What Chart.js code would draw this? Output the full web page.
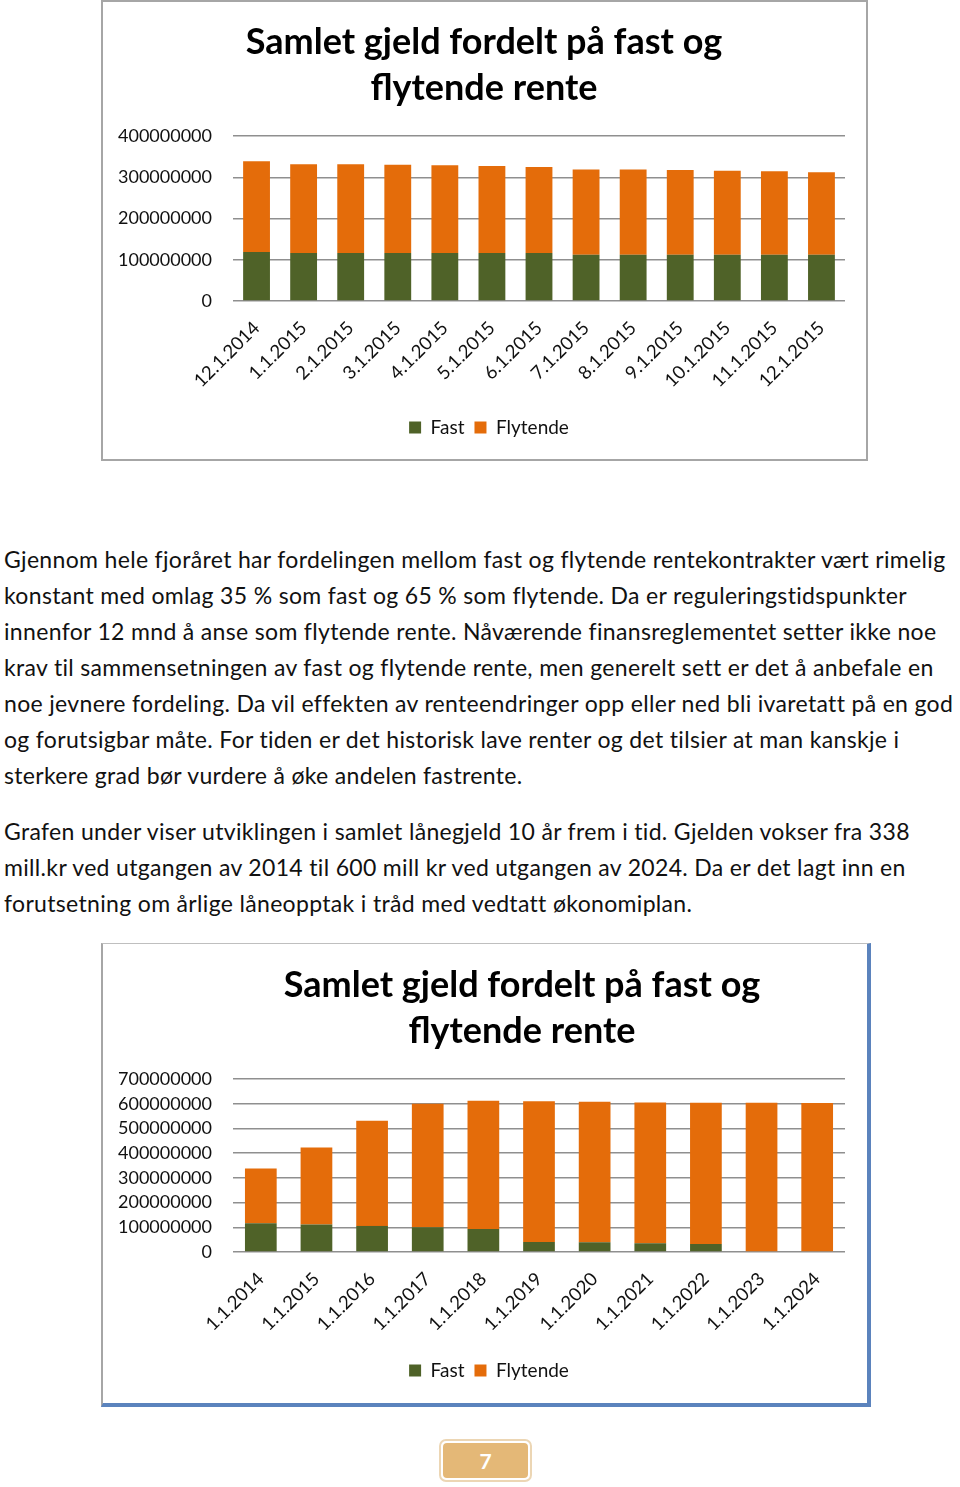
<!DOCTYPE html>
<html>
<head>
<meta charset="utf-8">
<script src="https://cdn.jsdelivr.net/npm/chart.js@4"></script>
<style>
  body { margin: 0; background: #fff; font-family: Lato, sans-serif; color: #111; }
  .box { position: absolute; box-sizing: border-box; background: #fff; }
  #box1 { left: 101px; top: 0; width: 767px; height: 461px; border: 2px solid #a6a6a6; }
  #box2 { left: 101px; top: 943px; width: 770px; height: 464px; border-top: 1px solid #bfbfbf; border-left: 2px solid #a6a6a6; border-right: 4px solid #5b83bd; border-bottom: 4px solid #5b83bd; }
  canvas { position: absolute; }
  .para { position: absolute; left: 4px; font-size: 23px; letter-spacing: 0.33px; line-height: 36px; white-space: nowrap; }
  #pagenum { position: absolute; left: 439px; top: 1439px; width: 93px; height: 43px; box-sizing: border-box; border: 2px solid #ecd6b4; border-radius: 7px; padding: 2px; }
  #pagenum div { width: 100%; height: 100%; background: #e4b877; border-radius: 4px; color: #fff; font-weight: bold; font-size: 21px; text-align: center; line-height: 35px; }
</style>
</head>
<body>
<div class="box" id="box1"></div>
<canvas id="chart1" width="763" height="456" style="left:103px; top:2px;"></canvas>

<div class="para" style="top:541px;">
Gjennom hele fjoråret har fordelingen mellom fast og flytende rentekontrakter vært rimelig<br>
konstant med omlag 35 % som fast og 65 % som flytende. Da er reguleringstidspunkter<br>
innenfor 12 mnd å anse som flytende rente. Nåværende finansreglementet setter ikke noe<br>
krav til sammensetningen av fast og flytende rente, men generelt sett er det å anbefale en<br>
noe jevnere fordeling. Da vil effekten av renteendringer opp eller ned bli ivaretatt på en god<br>
og forutsigbar måte. For tiden er det historisk lave renter og det tilsier at man kanskje i<br>
sterkere grad bør vurdere å øke andelen fastrente.
</div>
<div class="para" style="top:813px;">
Grafen under viser utviklingen i samlet lånegjeld 10 år frem i tid. Gjelden vokser fra 338<br>
mill.kr ved utgangen av 2014 til 600 mill kr ved utgangen av 2024. Da er det lagt inn en<br>
forutsetning om årlige låneopptak i tråd med vedtatt økonomiplan.
</div>

<div class="box" id="box2"></div>
<canvas id="chart2" width="763" height="458" style="left:103px; top:945px;"></canvas>

<div id="pagenum"><div>7</div></div>

<script>
// Chart 1: monthly debt split, Dec 2014 - Dec 2015
const months = ["12.1.2014", "1.1.2015", "2.1.2015", "3.1.2015", "4.1.2015", "5.1.2015", "6.1.2015",
  "7.1.2015", "8.1.2015", "9.1.2015", "10.1.2015", "11.1.2015", "12.1.2015"];
const fastMonthly = [118800000, 116400000, 116400000, 116400000, 116400000, 116400000, 116400000,
  112400000, 112400000, 112400000, 112400000, 112400000, 112400000];
const flytendeMonthly = [219900000, 215000000, 215000000, 214200000, 212600000, 211000000, 208600000,
  206100000, 206100000, 205300000, 203600000, 202100000, 199600000];
const monthlyTicks = [0, 100000000, 200000000, 300000000, 400000000];

// Chart 2: yearly debt split, 2014 - 2024
const years = ["1.1.2014", "1.1.2015", "1.1.2016", "1.1.2017", "1.1.2018", "1.1.2019",
  "1.1.2020", "1.1.2021", "1.1.2022", "1.1.2023", "1.1.2024"];
const fastYearly = [116200000, 110800000, 105400000, 100000000, 93200000, 40500000,
  39200000, 35100000, 32400000, 0, 0];
const flytendeYearly = [221600000, 312200000, 425600000, 500000000, 518800000, 569000000,
  568800000, 570300000, 571600000, 604000000, 602700000];
const yearlyTicks = [0, 100000000, 200000000, 300000000, 400000000, 500000000, 600000000, 700000000];

const titleText = ["Samlet gjeld fordelt på fast og", "flytende rente"];
const seriesNames = ["Fast", "Flytende"];
const green = "#4f6228";
const orange = "#e46c0a";

// moves title / legend sideways (Excel didn't centre them on the canvas)
const boxShift = {
  id: 'boxShift',
  afterLayout(chart, args, opts) {
    if (opts.titleDx && chart.titleBlock) {
      chart.titleBlock.left += opts.titleDx;
      chart.titleBlock.right += opts.titleDx;
    }
    if (opts.legendDx && chart.legend) {
      chart.legend.left += opts.legendDx;
      chart.legend.right += opts.legendDx;
    }
  }
};

function makeChart(id, labels, fast, flytende, ticks, opt) {
  return new Chart(document.getElementById(id), {
    type: 'bar',
    data: {
      labels: labels,
      datasets: [
        { label: seriesNames[0], data: fast, backgroundColor: green },
        { label: seriesNames[1], data: flytende, backgroundColor: orange }
      ]
    },
    plugins: [boxShift],
    options: {
      responsive: false,
      animation: false,
      barPercentage: 0.57,
      categoryPercentage: 1,
      layout: { padding: { left: 0, right: 21, top: 0, bottom: opt.padBottom } },
      plugins: {
        boxShift: { titleDx: opt.titleDx, legendDx: 15 },
        title: {
          display: true,
          text: titleText,
          color: "#000",
          font: { family: "Lato", size: 36, weight: "bold", lineHeight: 46 / 36 },
          padding: { top: 17, bottom: 25 }
        },
        legend: {
          position: 'bottom',
          labels: {
            boxWidth: 12, boxHeight: 12, padding: 10,
            color: "#111",
            font: { family: "Lato", size: 19 }
          }
        },
        tooltip: { enabled: false }
      },
      scales: {
        x: {
          stacked: true,
          grid: { display: false },
          border: { display: false },
          ticks: {
            autoSkip: false, maxRotation: 45, minRotation: 45, padding: 8,
            color: "#111", font: { family: "Lato", size: 18.5 }
          },
          afterFit: function(scale) { scale.height = opt.xHeight; }
        },
        y: {
          stacked: true,
          min: 0,
          max: ticks[ticks.length - 1],
          afterBuildTicks: function(scale) {
            scale.ticks = ticks.map(v => ({ value: v }));
          },
          grid: { color: "#8f8f8f", lineWidth: 1.5, drawTicks: false },
          border: { display: false },
          ticks: {
            padding: 21,
            color: "#111",
            font: { family: "Lato", size: 18 },
            callback: function(val) { return String(val); }
          },
          afterFit: function(scale) { scale.width = 130; }
        }
      }
    }
  });
}

makeChart('chart1', months, fastMonthly, flytendeMonthly, monthlyTicks,
  { padBottom: 11, xHeight: 107, titleDx: 10 });
makeChart('chart2', years, fastYearly, flytendeYearly, yearlyTicks,
  { padBottom: 13, xHeight: 99, titleDx: 48 });
</script>
</body>
</html>
